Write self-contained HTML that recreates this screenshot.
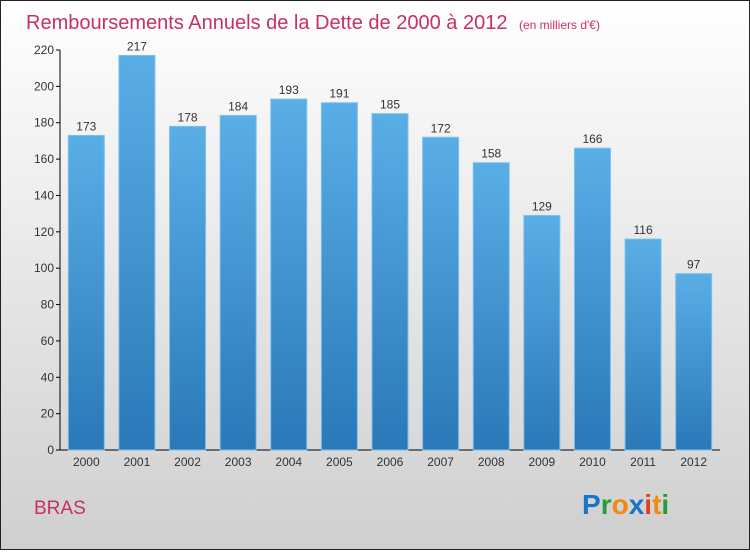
<!DOCTYPE html>
<html><head><meta charset="utf-8"><style>
body{margin:0;width:750px;height:550px;overflow:hidden;font-family:"Liberation Sans",sans-serif}
</style></head><body>
<svg id="chart" width="750" height="550" xmlns="http://www.w3.org/2000/svg">
<defs>
<linearGradient id="bg" x1="0" y1="0" x2="0" y2="1"><stop offset="0" stop-color="#ffffff"/><stop offset="1" stop-color="#cfcfcf"/></linearGradient>
<linearGradient id="bar" x1="0" y1="0" x2="0" y2="1"><stop offset="0" stop-color="#5aaee6"/><stop offset="1" stop-color="#2a78b8"/></linearGradient>
</defs>
<rect x="0.5" y="0.5" width="749" height="549" fill="url(#bg)" stroke="#222"/>
<text x="26" y="29" font-size="20" fill="#c8305f">Remboursements Annuels de la Dette de 2000 à 2012 <tspan font-size="12" dx="6">(en milliers d'€)</tspan></text>
<g id="axes"></g>
<g id="bars"></g>
<text x="34" y="514" font-size="19" fill="#c8305f">BRAS</text>
<g font-size="28" font-weight="bold" font-family="Liberation Sans, sans-serif">
<text x="582" y="514"><tspan fill="#1a73c9">P</tspan><tspan fill="#2a9a3a">r</tspan><tspan fill="#f08a10">o</tspan><tspan fill="#1a73c9">x</tspan><tspan fill="#e04020">i</tspan><tspan fill="#f08a10">t</tspan><tspan fill="#2a9a3a">i</tspan></text>
</g>
</svg>
<script>
const years=["2000","2001","2002","2003","2004","2005","2006","2007","2008","2009","2010","2011","2012"];
const values=[173,217,178,184,193,191,185,172,158,129,166,116,97];
const yTicks=[0,20,40,60,80,100,120,140,160,180,200,220];
const NS="http://www.w3.org/2000/svg";
const x0=62,x1=720,y0=450,yTop=50,yMax=220;
const y=v=>y0-(v/yMax)*(y0-yTop);
const step=(x1-x0)/years.length;
const xc=i=>x0+step*(i+0.5)-1;
function mk(t,a,p){const e=document.createElementNS(NS,t);for(const k in a)e.setAttribute(k,a[k]);p.appendChild(e);return e;}
const ax=document.getElementById('axes'),bg=document.getElementById('bars');
const yl=mk('line',{x1:60,y1:yTop,x2:60,y2:y0,stroke:'#000'},ax);


const xl=mk('line',{x1:60,y1:y0,x2:x1,y2:y0,stroke:'#000'},ax);


yTicks.forEach(v=>{
 const tk=mk('line',{x1:56,y1:y(v),x2:60,y2:y(v),stroke:'#000'},ax);
 
 
 const t=mk('text',{x:54,y:y(v)+4,'text-anchor':'end','font-size':12,fill:'#333'},ax);
 
 
 t.textContent=v;
});
years.forEach((yr,i)=>{
 const c=xc(i),v=values[i];
 const r=mk('rect',{x:c-18,y:y(v),width:36,height:y0-y(v),fill:'url(#bar)',stroke:'#7cc0ee','stroke-width':1},bg);
 
 
 const t=mk('text',{x:c,y:y(v)-5,'text-anchor':'middle','font-size':12,fill:'#333'},bg);
 
 
 t.textContent=v;
 const l=mk('text',{x:c,y:466,'text-anchor':'middle','font-size':12,fill:'#333'},bg);
 
 
 l.textContent=yr;
});
</script>
</body></html>
